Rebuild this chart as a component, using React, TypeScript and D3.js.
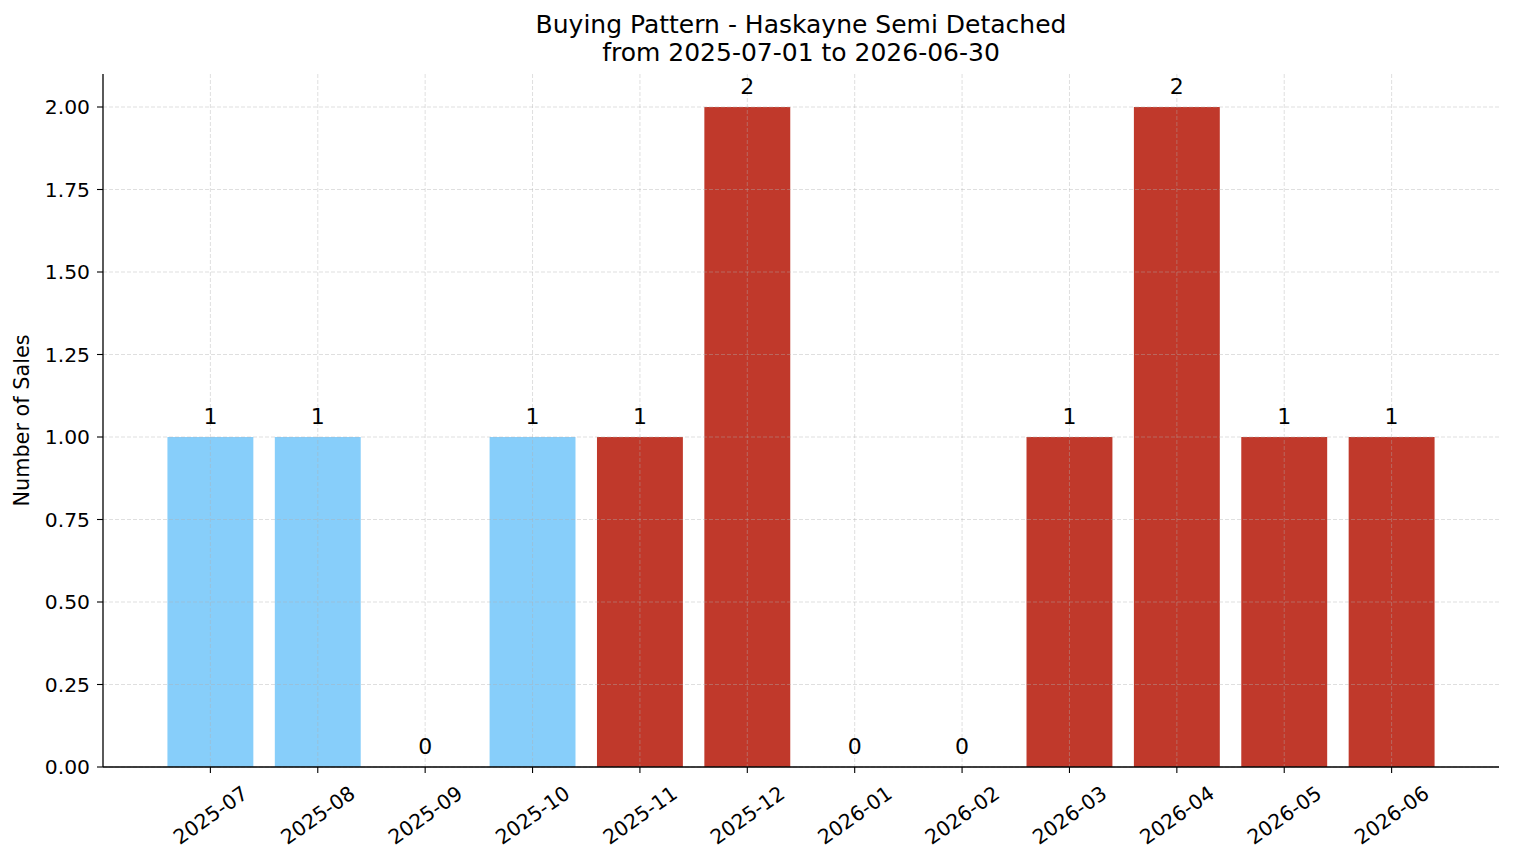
import React from "react";
import * as d3 from "d3";

const months = ["2025-07","2025-08","2025-09","2025-10","2025-11","2025-12","2026-01","2026-02","2026-03","2026-04","2026-05","2026-06"];
const sales = [1,1,0,1,1,2,0,0,1,2,1,1];
const barColors = ["#87CEFA","#87CEFA","#87CEFA","#87CEFA","#C0392B","#C0392B","#C0392B","#C0392B","#C0392B","#C0392B","#C0392B","#C0392B"];
const yTicks = [0,0.25,0.5,0.75,1.0,1.25,1.5,1.75,2.0];
const titleLines = ["Buying Pattern - Haskayne Semi Detached","from 2025-07-01 to 2026-06-30"];
const yLabel = "Number of Sales";

const W = 1514, H = 863;
const L = 103, R = 1499, T = 74, B = 767;
const FONT = "'DejaVu Sans', sans-serif";

export default function App() {
  const x = d3.scaleLinear().domain([-1, months.length]).range([L, R]);
  const y = d3.scaleLinear().domain([0, 2.1]).range([B, T]);
  const bw = (x(1) - x(0)) * 0.8;
  return (
    <svg width={W} height={H} style={{position:"absolute", left:0, top:0, background:"#fff"}} fontFamily={FONT}>
      <rect x={0} y={0} width={W} height={H} fill="#fff" />
      {sales.map((v, i) => (
        <rect key={"b"+i} x={x(i) - bw/2} y={y(v)} width={bw} height={y(0) - y(v)} fill={barColors[i]} />
      ))}
      {yTicks.map((t) => (
        <line key={"gy"+t} x1={L} x2={R} y1={y(t)} y2={y(t)} stroke="#b0b0b0" strokeOpacity={0.5} strokeDasharray="4,2" strokeWidth={0.8} />
      ))}
      {months.map((m, i) => (
        <line key={"gx"+m} x1={x(i)} x2={x(i)} y1={T} y2={B} stroke="#b0b0b0" strokeOpacity={0.5} strokeDasharray="4,2" strokeWidth={0.8} />
      ))}
      <line x1={L} x2={L} y1={T} y2={B} stroke="#000" strokeWidth={1.3} />
      <line x1={L} x2={R} y1={B} y2={B} stroke="#000" strokeWidth={1.3} />
      {yTicks.map((t) => (
        <g key={"ty"+t}>
          <line x1={L-6} x2={L} y1={y(t)} y2={y(t)} stroke="#000" strokeWidth={1.1} />
          <text x={L-13} y={y(t)} dy="0.36em" textAnchor="end" fontSize={20.3} fill="#000">{t.toFixed(2)}</text>
        </g>
      ))}
      {months.map((m, i) => (
        <g key={"tx"+m}>
          <line x1={x(i)} x2={x(i)} y1={B} y2={B+6} stroke="#000" strokeWidth={1.1} />
          <text transform={`translate(${x(i)},${B+48}) rotate(-35)`} textAnchor="middle" dy="0.36em" fontSize={20.3} fill="#000">{m}</text>
        </g>
      ))}
      {sales.map((v, i) => (
        <text key={"v"+i} x={x(i)} y={y(v) - 13} textAnchor="middle" fontSize={22} fill="#000">{v}</text>
      ))}
      <text transform={`translate(29,${(T+B)/2}) rotate(-90)`} textAnchor="middle" fontSize={20.8} fill="#000">{yLabel}</text>
      {titleLines.map((s, k) => (
        <text key={"t"+k} x={(L+R)/2} y={33 + k*28} textAnchor="middle" fontSize={25} fill="#000">{s}</text>
      ))}
    </svg>
  );
}
